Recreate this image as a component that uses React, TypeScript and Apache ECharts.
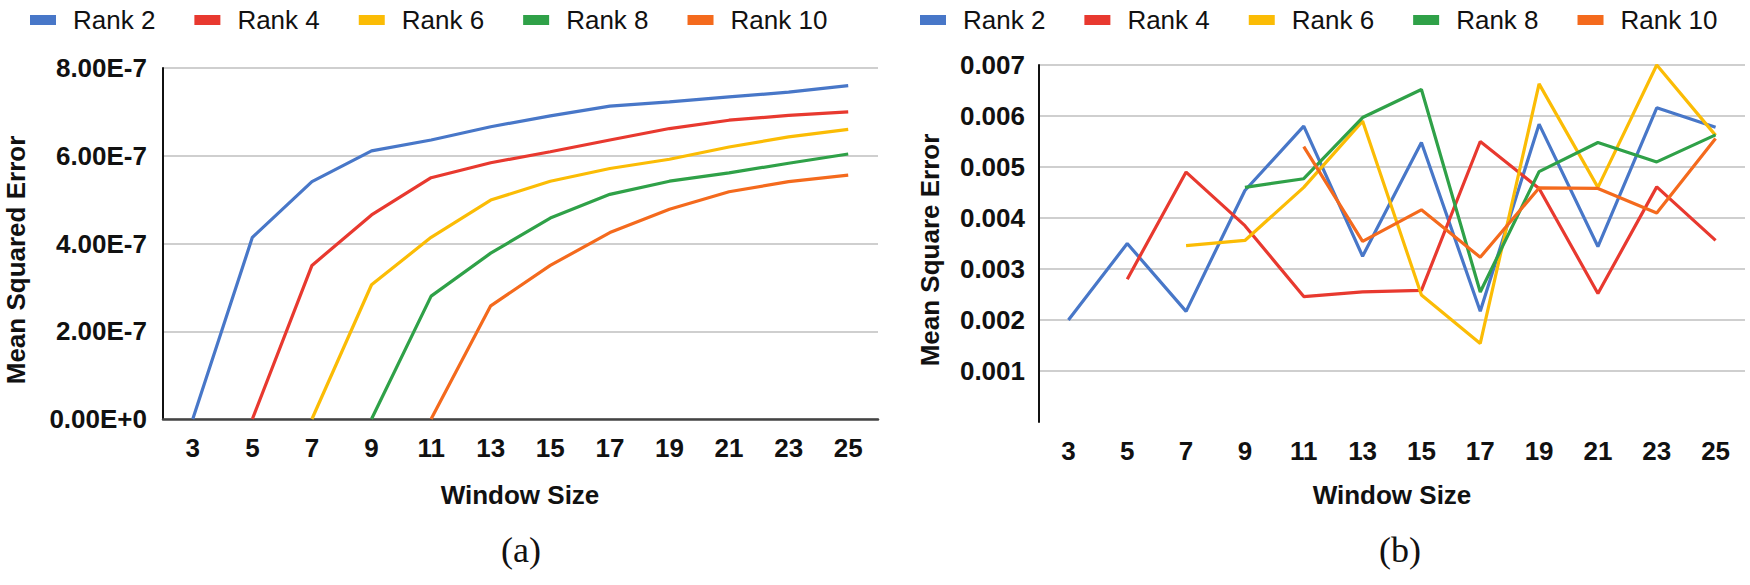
import React, { useEffect, useRef } from "react";
import * as echarts from "echarts";

const categories = ["3", "5", "7", "9", "11", "13", "15", "17", "19", "21", "23", "25"];
const seriesNames = ["Rank 2", "Rank 4", "Rank 6", "Rank 8", "Rank 10"];
const colors = ["#4877c8", "#e8392f", "#fbbc05", "#2fa148", "#f46a1d"];

// Chart (a): Mean Squared Error
const aRank2 = [0, 4.14e-7, 5.41e-7, 6.11e-7, 6.36e-7, 6.66e-7, 6.91e-7, 7.13e-7, 7.23e-7, 7.34e-7, 7.45e-7, 7.6e-7];
const aRank4 = [null, 0, 3.5e-7, 4.65e-7, 5.5e-7, 5.84e-7, 6.09e-7, 6.36e-7, 6.62e-7, 6.81e-7, 6.92e-7, 7.0e-7];
const aRank6 = [null, null, 0, 3.06e-7, 4.14e-7, 4.99e-7, 5.42e-7, 5.71e-7, 5.92e-7, 6.2e-7, 6.43e-7, 6.6e-7];
const aRank8 = [null, null, null, 0, 2.8e-7, 3.78e-7, 4.58e-7, 5.12e-7, 5.42e-7, 5.61e-7, 5.83e-7, 6.04e-7];
const aRank10 = [null, null, null, null, 0, 2.58e-7, 3.5e-7, 4.25e-7, 4.78e-7, 5.18e-7, 5.41e-7, 5.56e-7];

// Chart (b): Mean Square Error
const bRank2 = [0.002, 0.0035, 0.00217, 0.00454, 0.0058, 0.00325, 0.00548, 0.00217, 0.00584, 0.00344, 0.00616, 0.00578];
const bRank4 = [null, 0.0028, 0.0049, 0.00385, 0.00246, 0.00255, 0.00258, 0.0055, 0.00458, 0.00252, 0.00461, 0.00356];
const bRank6 = [null, null, 0.00346, 0.00356, 0.0046, 0.0059, 0.00249, 0.00154, 0.00663, 0.0046, 0.007, 0.00562];
const bRank8 = [null, null, null, 0.0046, 0.00477, 0.00597, 0.00652, 0.00255, 0.00491, 0.00548, 0.0051, 0.00563];
const bRank10 = [null, null, null, null, 0.0054, 0.00354, 0.00416, 0.00323, 0.00459, 0.00458, 0.0041, 0.00556];

const aTicks = { min: 0, max: 8e-7, interval: 2e-7 };
const bTicks = { min: 0, max: 0.007, interval: 0.001 };

const aData = [aRank2, aRank4, aRank6, aRank8, aRank10];
const bData = [bRank2, bRank4, bRank6, bRank8, bRank10];

const FONT = "'Liberation Sans', Arial, sans-serif";
const SERIF = "'Liberation Serif', 'Times New Roman', serif";

export default function App() {
  const ref = useRef<HTMLDivElement>(null);
  useEffect(() => {
    document.body.style.margin = "0";
    if (!ref.current) return;
    const chart = echarts.init(ref.current, null, { renderer: "svg" });

    const legendBase = {
      data: seriesNames,
      icon: "rect",
      itemWidth: 26,
      itemHeight: 10,
      itemGap: 39,
      top: 2,
      textStyle: { fontSize: 26, color: "#111", fontFamily: FONT, padding: [0, 0, 0, 12] },
    };

    const xAxisBase = (grid: number, showLine: boolean) => ({
      type: "category",
      gridIndex: grid,
      data: categories,
      boundaryGap: true,
      axisTick: { show: false },
      axisLine: { show: showLine, lineStyle: { color: "#444", width: 2.5 } },
      axisLabel: { fontSize: 26, fontWeight: "bold", color: "#111", margin: 16, fontFamily: FONT },
      splitLine: { show: false },
    });

    const series: any[] = [];
    seriesNames.forEach((name, i) => {
      series.push({
        name,
        type: "line",
        xAxisIndex: 0,
        yAxisIndex: 0,
        data: aData[i],
        symbol: "none",
        connectNulls: false,
        lineStyle: { width: 3.2, color: colors[i] },
        itemStyle: { color: colors[i] },
      });
      series.push({
        name,
        type: "line",
        xAxisIndex: 1,
        yAxisIndex: 1,
        data: bData[i],
        symbol: "none",
        connectNulls: false,
        lineStyle: { width: 3.2, color: colors[i] },
        itemStyle: { color: colors[i] },
      });
    });

    const grayGrid = "#cfcfcf";

    chart.setOption({
      animation: false,
      textStyle: { fontFamily: FONT },
      legend: [
        { ...legendBase, left: 25 },
        { ...legendBase, left: 915 },
      ],
      grid: [
        { left: 163, right: 872, top: 68, bottom: 166 },
        { left: 1039, right: 5, top: 65, bottom: 163 },
      ],
      xAxis: [xAxisBase(0, true), xAxisBase(1, false)],
      yAxis: [
        {
          type: "value",
          gridIndex: 0,
          min: aTicks.min,
          max: aTicks.max,
          interval: aTicks.interval,
          axisLine: { show: true, lineStyle: { color: "#111", width: 2 } },
          axisTick: { show: false },
          axisLabel: {
            fontSize: 26,
            fontWeight: "bold",
            color: "#111",
            margin: 16,
            fontFamily: FONT,
            formatter: (v: number) => (v === 0 ? "0.00E+0" : v.toExponential(2).toUpperCase()),
          },
          splitLine: { show: true, lineStyle: { color: grayGrid, width: 2 } },
        },
        {
          type: "value",
          gridIndex: 1,
          min: bTicks.min,
          max: bTicks.max,
          interval: bTicks.interval,
          axisLine: { show: true, lineStyle: { color: "#111", width: 2 } },
          axisTick: { show: false },
          axisLabel: {
            fontSize: 26,
            fontWeight: "bold",
            color: "#111",
            margin: 14,
            fontFamily: FONT,
            showMinLabel: false,
            formatter: (v: number) => v.toFixed(3),
          },
          splitLine: {
            show: true,
            lineStyle: {
              color: ["rgba(0,0,0,0)", grayGrid, grayGrid, grayGrid, grayGrid, grayGrid, grayGrid, grayGrid],
              width: 2,
            },
          },
        },
      ],
      graphic: [
        {
          type: "text",
          x: 16,
          y: 260,
          rotation: Math.PI / 2,
          style: {
            text: "Mean Squared Error",
            font: `bold 26px ${FONT}`,
            fill: "#111",
            align: "center",
            verticalAlign: "middle",
          },
        },
        {
          type: "text",
          x: 930,
          y: 250,
          rotation: Math.PI / 2,
          style: {
            text: "Mean Square Error",
            font: `bold 26px ${FONT}`,
            fill: "#111",
            align: "center",
            verticalAlign: "middle",
          },
        },
        {
          type: "text",
          x: 520,
          y: 495,
          style: { text: "Window Size", font: `bold 26px ${FONT}`, fill: "#111", align: "center", verticalAlign: "middle" },
        },
        {
          type: "text",
          x: 1392,
          y: 495,
          style: { text: "Window Size", font: `bold 26px ${FONT}`, fill: "#111", align: "center", verticalAlign: "middle" },
        },
        {
          type: "text",
          x: 521,
          y: 550,
          style: { text: "(a)", font: `36px ${SERIF}`, fill: "#111", align: "center", verticalAlign: "middle" },
        },
        {
          type: "text",
          x: 1400,
          y: 550,
          style: { text: "(b)", font: `36px ${SERIF}`, fill: "#111", align: "center", verticalAlign: "middle" },
        },
      ],
      series,
    });
    return () => chart.dispose();
  }, []);
  return <div ref={ref} style={{ width: 1750, height: 585 }} />;
}
